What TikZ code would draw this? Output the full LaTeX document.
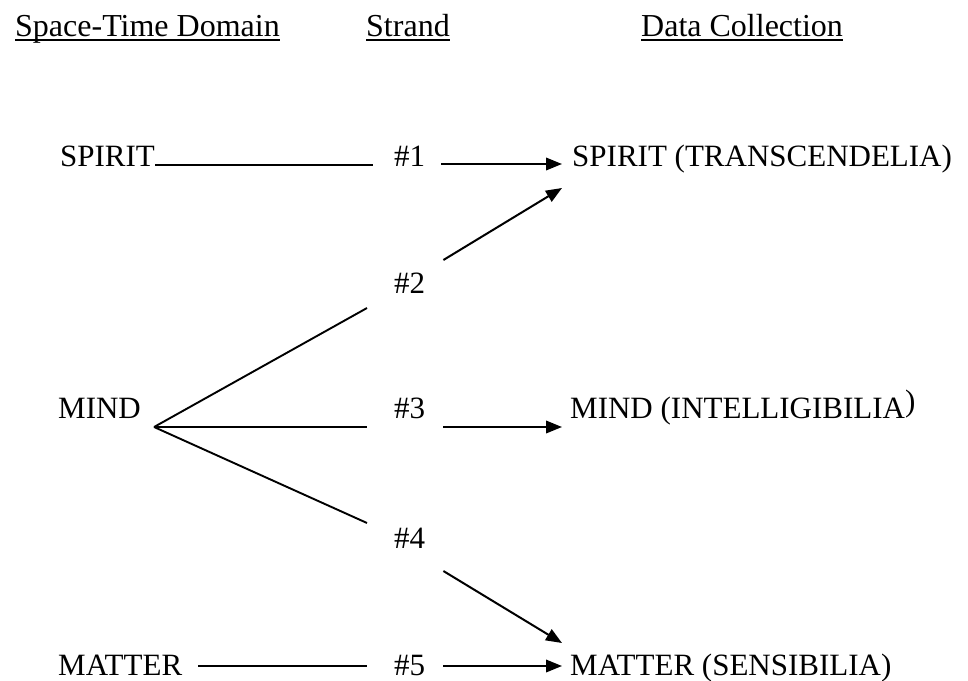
\documentclass[tikz,border=0pt]{standalone}
\usepackage{fontspec}
\setmainfont{Liberation Serif}
\usetikzlibrary{arrows.meta,positioning}
\tikzset{
  >={Triangle[length=16pt,width=12.5pt]},
  txt/.style={font=\fontsize{31}{36}\selectfont, inner sep=0pt, anchor=base west},
  head/.style={txt, font=\fontsize{32}{38}\selectfont},
  uline/.style={line width=1.5pt},
  link/.style={line width=1.9pt},
  arrow/.style={->, line width=2pt}
}
\begin{document}
\begin{tikzpicture}[x=1pt,y=-1pt]
  \useasboundingbox (0,0) rectangle (968,680);

  % column headings
  \node[head] (hdomain) at (15,36) {Space-Time Domain};
  \node[head] (hstrand) at (366,36) {Strand};
  \node[head] (hdata) at (641,36) {Data Collection};
  \foreach \h in {hdomain,hstrand,hdata}
    \draw[uline] ([yshift=-4pt]\h.base west) -- ([yshift=-4pt]\h.base east);

  % domains
  \node[txt] (spirit) at (60,166) {SPIRIT};
  \node[txt] (mind) at (58,418) {MIND};
  \node[txt] (matter) at (58,675) {MATTER};

  % strands
  \foreach \i/\y in {1/166,2/293,3/418,4/548,5/675}
    \node[txt] (s\i) at (394,\y) {\#\i};

  % data collection
  \node[txt] (dspirit) at (572,166) {SPIRIT (TRANSCENDELIA)};
  \node[txt] (dmind) at (570,418) {MIND (INTELLIGIBILIA\raisebox{7pt}{)}};
  \node[txt] (dmatter) at (570,675) {MATTER (SENSIBILIA)};

  % domain to strand
  \coordinate (fan) at ([xshift=13pt,yshift=-9pt]mind.base east);
  \draw[link] ([yshift=1pt]spirit.base east) -- ([xshift=-21pt,yshift=1pt]s1.base west);
  \draw[link] (fan) -- ([xshift=-27pt,yshift=-15pt]s2.base west);
  \draw[link] (fan) -- ([xshift=-27pt,yshift=-9pt]s3.base west);
  \draw[link] (fan) -- ([xshift=-27pt,yshift=25pt]s4.base west);
  \draw[link] ([xshift=16pt,yshift=9pt]matter.base east) -- ([xshift=-27pt,yshift=9pt]s5.base west);

  % strand to data collection
  \draw[arrow] ([xshift=16pt,yshift=2pt]s1.base east) -- ([xshift=-10pt,yshift=2pt]dspirit.base west);
  \draw[arrow] ([xshift=18pt,yshift=33pt]s2.base east) -- ([xshift=-10pt,yshift=-22pt]dspirit.base west);
  \draw[arrow] ([xshift=18pt,yshift=-9pt]s3.base east) -- ([xshift=-8pt,yshift=-9pt]dmind.base west);
  \draw[arrow] ([xshift=18pt,yshift=-23pt]s4.base east) -- ([xshift=-8pt,yshift=32pt]dmatter.base west);
  \draw[arrow] ([xshift=18pt,yshift=9pt]s5.base east) -- ([xshift=-8pt,yshift=9pt]dmatter.base west);
\end{tikzpicture}
\end{document}
